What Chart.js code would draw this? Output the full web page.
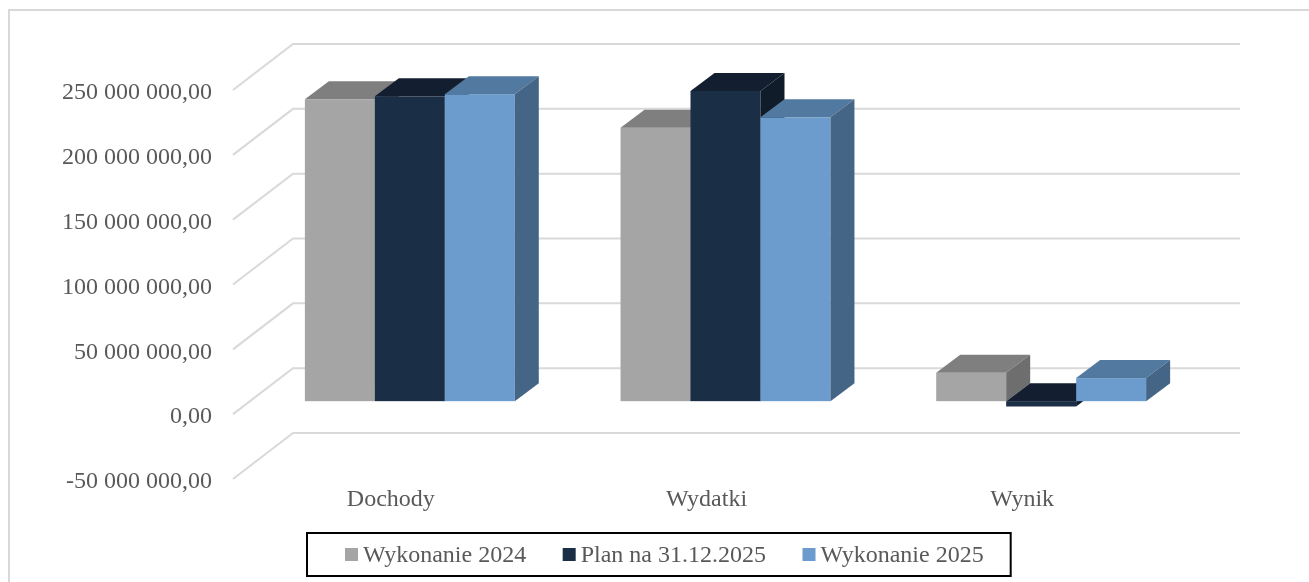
<!DOCTYPE html>
<html lang="pl">
<head>
  <meta charset="UTF-8">
  <title>Dochody, wydatki i wynik</title>
  <script src="https://cdn.jsdelivr.net/npm/chart.js"></script>
  <style>
    body {
      margin: 0;
      padding: 0;
      background: #fff;
    }
    #wrap {
      width: 1309px;
      height: 582px;
    }
  </style>
</head>
<body>
  <div id="wrap">
    <canvas id="budgetChart" width="1309" height="582"></canvas>
  </div>

  <script>
    // Data
    const categories = ['Dochody', 'Wydatki', 'Wynik'];
    const seriesNames = ['Wykonanie 2024', 'Plan na 31.12.2025', 'Wykonanie 2025'];
    const wykonanie2024 = [232.8e6, 210.9e6, 21.9e6];
    const plan2025 = [235.1e6, 239.2e6, -4.1e6];
    const wykonanie2025 = [236.7e6, 218.9e6, 17.8e6];
    const yMin = -50e6;
    const yMax = 250e6;
    const yStep = 50e6;

    // Look of the 3D faces (front / top / side) per series
    const faces = [
      { front: '#a5a5a5', top: '#7f7f7f', side: '#6e6e6e' },
      { front: '#1a2e45', top: '#131f30', side: '#111c2b' },
      { front: '#6c9bcd', top: '#52799f', side: '#456587' }
    ];
    const WALL = { x: 60, y: -46 };   // depth of the back wall
    const FRONT = { x: 19, y: -13 };  // bars sit a bit behind the front plane
    const DEPTH = { x: 24, y: -18 };  // depth of each bar
    const FONT = "'Liberation Serif', 'Times New Roman', serif";
    const TEXT = '#595959';

    function plNumber(v) {
      const parts = Math.abs(v).toFixed(2).split('.');
      const intPart = parts[0].replace(/\B(?=(\d{3})+(?!\d))/g, ' ');
      return (v < 0 ? '-' : '') + intPart + ',' + parts[1];
    }

    const box3d = {
      id: 'box3d',
      beforeDraw(chart) {
        const ctx = chart.ctx;
        ctx.save();
        ctx.fillStyle = '#fff';
        ctx.fillRect(0, 0, chart.width, chart.height);
        ctx.strokeStyle = '#d9d9d9';
        ctx.lineWidth = 2;
        ctx.strokeRect(9, 10, chart.width + 10, chart.height + 10);
        ctx.restore();
      },
      beforeDatasetsDraw(chart) {
        const { ctx, chartArea: a } = chart;
        const yScale = chart.scales.y;
        ctx.save();

        // gridlines: side wall diagonal + back wall
        ctx.strokeStyle = '#d9d9d9';
        ctx.lineWidth = 2;
        yScale.ticks.forEach(t => {
          const py = yScale.getPixelForValue(t.value);
          ctx.beginPath();
          ctx.moveTo(a.left, py);
          ctx.lineTo(a.left + WALL.x, py + WALL.y);
          ctx.lineTo(a.right + WALL.x, py + WALL.y);
          ctx.stroke();
        });

        // 3D boxes, left to right
        categories.forEach((c, i) => {
          chart.data.datasets.forEach((ds, d) => {
            const bar = chart.getDatasetMeta(d).data[i];
            const p = bar.getProps(['x', 'y', 'base', 'width'], true);
            const l = p.x - p.width / 2 + FRONT.x;
            const r = p.x + p.width / 2 + FRONT.x;
            const t = Math.min(p.y, p.base) + FRONT.y;
            const b = Math.max(p.y, p.base) + FRONT.y;
            const f = faces[d];

            ctx.fillStyle = f.front;
            ctx.fillRect(l, t, r - l, b - t);

            ctx.fillStyle = f.top;
            ctx.beginPath();
            ctx.moveTo(l, t);
            ctx.lineTo(l + DEPTH.x, t + DEPTH.y);
            ctx.lineTo(r + DEPTH.x, t + DEPTH.y);
            ctx.lineTo(r, t);
            ctx.closePath();
            ctx.fill();

            ctx.fillStyle = f.side;
            ctx.beginPath();
            ctx.moveTo(r, t);
            ctx.lineTo(r + DEPTH.x, t + DEPTH.y);
            ctx.lineTo(r + DEPTH.x, b + DEPTH.y);
            ctx.lineTo(r, b);
            ctx.closePath();
            ctx.fill();
          });
        });
        ctx.restore();
        return false;
      },
      afterDraw(chart) {
        // legend in a black frame
        const ctx = chart.ctx;
        const boxL = 307, boxT = 533, boxH = 43;
        const midY = boxT + boxH / 2;
        const gap = 36.5;
        ctx.save();
        ctx.font = '24px ' + FONT;
        ctx.textBaseline = 'middle';
        let x = boxL + 38;
        chart.data.datasets.forEach((ds, d) => {
          ctx.fillStyle = faces[d].front;
          ctx.fillRect(x, midY - 6.5, 13, 13);
          ctx.fillStyle = TEXT;
          ctx.fillText(ds.label, x + 18, midY + 1);
          x += 18 + ctx.measureText(ds.label).width + gap;
        });
        ctx.strokeStyle = '#000';
        ctx.lineWidth = 2;
        ctx.strokeRect(boxL, boxT, x - gap + 27 - boxL, boxH);
        ctx.restore();
      }
    };

    new Chart(document.getElementById('budgetChart'), {
      type: 'bar',
      data: {
        labels: categories,
        datasets: [
          { label: seriesNames[0], data: wykonanie2024, backgroundColor: faces[0].front },
          { label: seriesNames[1], data: plan2025, backgroundColor: faces[1].front },
          { label: seriesNames[2], data: wykonanie2025, backgroundColor: faces[2].front }
        ]
      },
      options: {
        responsive: false,
        animation: false,
        categoryPercentage: 0.665,
        barPercentage: 1,
        layout: {
          padding: { top: 90, right: 129, bottom: 0, left: 0 }
        },
        plugins: {
          legend: { display: false },
          tooltip: { enabled: false }
        },
        scales: {
          x: {
            grid: { display: false },
            border: { display: false },
            ticks: {
              color: TEXT,
              font: { family: FONT, size: 24 },
              padding: -2
            },
            afterFit(s) { s.height = 103; }
          },
          y: {
            min: yMin,
            max: yMax,
            grid: { display: false },
            border: { display: false },
            ticks: {
              stepSize: yStep,
              color: TEXT,
              font: { family: FONT, size: 24 },
              padding: 13,
              labelOffset: 3,
              callback: v => plNumber(v)
            },
            afterFit(s) { s.width = 233; }
          }
        }
      },
      plugins: [box3d]
    });
  </script>
</body>
</html>
